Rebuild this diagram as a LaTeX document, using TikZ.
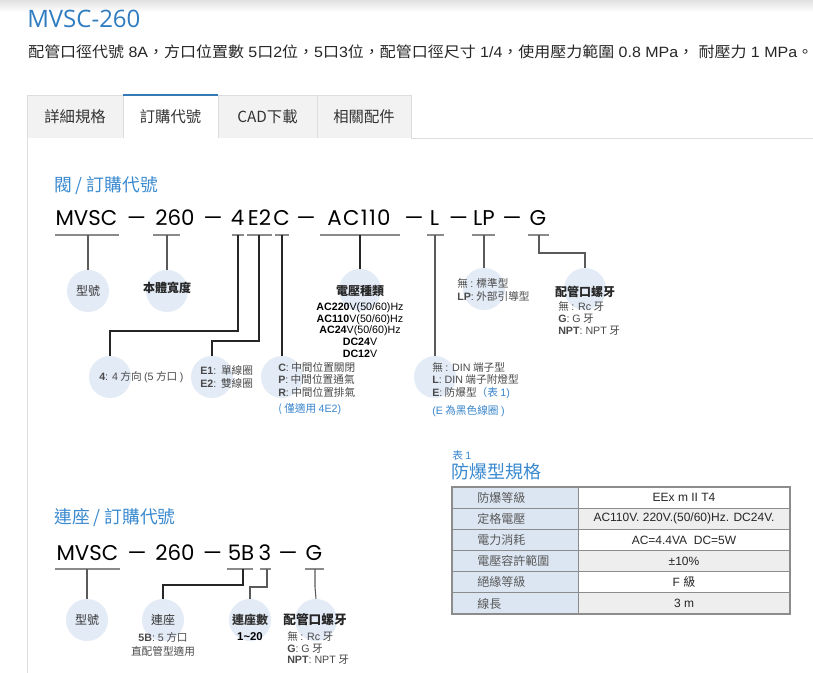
\documentclass[tikz,border=0pt]{standalone}
\usepackage{fontspec}
\setmainfont{Noto Sans CJK TC}
\newfontfamily\codefont{Poppins}
\newfontfamily\codefontw[Numbers=Monospaced,LetterSpace=6]{Poppins}
\newfontfamily\arialf{Liberation Sans}
\newfontfamily\titlef{Open Sans}
\newcommand\kb[1]{{\arialf\bfseries #1}}
\newcommand\ka[1]{{\arialf #1}}
\definecolor{titleblue}{HTML}{2F7CC0}
\definecolor{headblue}{HTML}{3A8AD0}
\definecolor{noteblue}{HTML}{3A86CC}
\definecolor{bubble}{HTML}{E3EBF6}
\definecolor{labgray}{HTML}{4A4A4A}
\definecolor{ulgray}{HTML}{8A8A8A}
\definecolor{conngray}{HTML}{5A5A5A}
\definecolor{tabgray}{HTML}{F2F2F2}
\definecolor{tabline}{HTML}{DDDDDD}
\definecolor{tabblue}{HTML}{337AB7}
\definecolor{cellblue}{HTML}{DCE6F2}
\definecolor{cellgray}{HTML}{EEEEEE}
\definecolor{gridgray}{HTML}{8C8C8C}
\begin{document}
\begin{tikzpicture}[x=0.75pt,y=-0.75pt,
  bub/.style={circle, fill=bubble, minimum size=31.5pt, inner sep=0pt},
  lab/.style={inner sep=0pt, font=\fontsize{8}{9.4}\selectfont, text=labgray, align=left},
  blab/.style={inner sep=0pt, font=\fontsize{9}{10}\selectfont\bfseries, text=black!85},
  rlab/.style={inner sep=0pt, font=\fontsize{9}{10}\selectfont, text=black!80},
  codetxt/.style={inner sep=0pt, anchor=base, font=\codefont\fontsize{16}{16}\selectfont, text=black},
  uline/.style={draw=ulgray, line width=1pt},
  conn/.style={draw=conngray, line width=0.8pt},
  dconn/.style={draw=black!85, line width=0.8pt},
  head/.style={inner sep=0pt, anchor=west, font=\fontsize{13.3}{15}\selectfont, text=headblue},
  note/.style={inner sep=0pt, anchor=west, font=\fontsize{8}{9.4}\selectfont, text=noteblue},
  tabtxt/.style={inner sep=0pt, font=\fontsize{11.5}{12}\selectfont, text=black!80},
  lcell/.style={inner sep=0pt, anchor=west, font=\fontsize{9}{10}\selectfont, text=black!65},
  rcell/.style={inner sep=0pt, font=\arialf\fontsize{9}{10}\selectfont, text=black!85}]
\useasboundingbox (0,0) rectangle (813,673);
\fill[white] (0,0) rectangle (813,673);
\shade[top color=black!12, bottom color=white] (0,0) rectangle (813,12);

% title and description
\node[inner sep=0pt, anchor=west, font=\titlef\fontsize{18}{20}\selectfont, text=titleblue] (title) at (27,19) {MVSC-260};
\node[inner sep=0pt, anchor=west, xscale=1.07, font=\fontsize{11.2}{12}\selectfont, text=black!85] (desc) at (28,52) {配管口徑代號\ka{ 8A}，方口位置數\ka{ 5}口\ka{2}位，\ka{5}口\ka{3}位，配管口徑尺寸\ka{ 1/4}，使用壓力範圍\ka{ 0.8 MPa}，\ka{ }耐壓力\ka{ 1 MPa}。};

% tabs
\filldraw[fill=tabgray, draw=tabline] (27,138) -- (27,95) -- (123,95) -- (123,138);
\filldraw[fill=white, draw=tabline] (123,138) -- (123,95) -- (218,95) -- (218,138);
\draw[tabblue, line width=1.5pt] (123,95) -- (218,95);
\filldraw[fill=tabgray, draw=tabline] (218,138) -- (218,95) -- (317,95) -- (317,138);
\filldraw[fill=tabgray, draw=tabline] (317,138) -- (317,95) -- (411,95) -- (411,138);
\draw[tabline] (411,138) -- (813,138);
\draw[tabline] (27,138) -- (27,673);
\node[tabtxt] (t1) at (75,117) {詳細規格};
\node[tabtxt] (t2) at (170.5,117) {訂購代號};
\node[tabtxt] (t3) at (267.5,117) {CAD下載};
\node[tabtxt] (t4) at (364,117) {相關配件};

% ===== section 1 =====
\node[head] (h1) at (54,186) {閥 / 訂購代號};
\node[codetxt] (m1) at (86.5,226) {MVSC};
\node[codetxt] (s11) at (136.5,226) {—};
\node[codetxt] (n1) at (175,226) {260};
\node[codetxt] (s12) at (213,226) {—};
\node[codetxt] (k4) at (237.5,226) {4};
\node[codetxt] (kE) at (259.5,226) {E2};
\node[codetxt] (kC) at (281.5,226) {C};
\node[codetxt] (s13) at (306,226) {—};
\node[codetxt, font=\codefontw\fontsize{16}{16}\selectfont] (kAC) at (359,226) {AC110};
\node[codetxt] (s14) at (414,226) {—};
\node[codetxt] (kL) at (434.5,226) {L};
\node[codetxt] (s15) at (458.5,226) {—};
\node[codetxt] (kLP) at (484,226) {LP};
\node[codetxt] (s16) at (512,226) {—};
\node[codetxt] (kG) at (538,226) {G};

\draw[uline] (55,235) -- (119,235);
\draw[uline] (153,235) -- (180,235);
\draw[uline] (232,235) -- (244,235);
\draw[uline] (247,235) -- (272,235);
\draw[uline] (275,235) -- (289,235);
\draw[uline] (320,235) -- (400,235);
\draw[uline] (427,235) -- (444,235);
\draw[uline] (472,235) -- (495,235);
\draw[uline] (528,235) -- (549,235);

\coordinate (u1) at (88,235);
\coordinate (u2) at (167,235);
\coordinate (u3) at (238,235);
\coordinate (u4) at (259,235);
\coordinate (u5) at (282,235);
\coordinate (u6) at (360,235);
\coordinate (u7) at (435,235);
\coordinate (u8) at (484,235);
\coordinate (u9) at (539,235);

\node[bub] (c1) at (88,291) {};
\node[bub] (c2) at (167,291) {};
\node[bub] (c3) at (110,377) {};
\node[bub] (c4) at (212,377) {};
\node[bub] (c5) at (282,377) {};
\node[bub] (c6) at (360,290) {};
\node[bub] (c7) at (435,377) {};
\node[bub] (c8) at (484,289) {};
\node[bub] (c9) at (585,289) {};

\draw[conn] (u1) -- (c1.north);
\draw[conn] (u2) -- (c2.north);
\draw[dconn] (u3) -- (238,331) -- (110,331) -- (c3.north);
\draw[dconn] (u4) -- (259,341) -- (212,341) -- (c4.north);
\draw[dconn] (u5) -- (c5.north);
\draw[dconn] (u6) -- (c6.north);
\draw[conn] (u7) -- (c7.north);
\draw[conn] (u8) -- (c8.north);
\draw[conn] (u9) -- (539,253) -- (585,253) -- (c9.north);

\node[rlab] (l1) at (88,291) {型號};
\node[blab] (l2) at (167,288) {本體寬度};
\node[lab, anchor=west] (l3) at (99,377) {\kb{4}\ka{: 4} 方向 \ka{(5} 方口 \ka{)}};
\node[lab, anchor=west, font=\fontsize{8}{9.8}\selectfont] (l4) at (200,376.5) {\kb{E1}\ka{:}\ \ 單線圈\\\kb{E2}\ka{:}\ \ 雙線圈};
\node[lab, anchor=west] (l5) at (278,379.5) {\kb{C}\ka{:} 中間位置關閉\\\kb{P}\ka{:} 中間位置通氣\\\kb{R}\ka{:} 中間位置排氣};
\node[note] (n5) at (278,409) {( 僅適用 \ka{4E2)}};
\node[blab] (l6) at (360,291) {電壓種類};
\node[inner sep=0pt, anchor=north, align=center, font=\arialf\fontsize{8}{8.8}\selectfont, text=black] (v6) at (360,302.5) {\kb{AC220}V(50/60)Hz\\\kb{AC110}V(50/60)Hz\\\kb{AC24}V(50/60)Hz\\\kb{DC24}V\\\kb{DC12}V};
\node[lab, anchor=west] (l7) at (432,380.5) {無 \ka{: DIN} 端子型\\\kb{L}\ka{: DIN} 端子附燈型\\\kb{E}\ka{:} 防爆型{\color{noteblue}（表 \ka{1)}}};
\node[note] (n7) at (432,411) {\ka{(E} 為黑色線圈 \ka{)}};
\node[lab, anchor=west, font=\fontsize{8}{9.8}\selectfont] (l8) at (457,289.5) {無 \ka{:} 標準型\\\kb{LP}\ka{:} 外部引導型};
\node[blab] (l9) at (585,292) {配管口螺牙};
\node[lab, anchor=north west, font=\fontsize{8}{9}\selectfont] (v9) at (558,301) {無 \ka{: Rc} 牙\\\kb{G}\ka{: G} 牙\\\kb{NPT}\ka{: NPT} 牙};

% ===== table =====
\node[inner sep=0pt, anchor=west, font=\fontsize{8}{9}\selectfont, text=noteblue] (tb1) at (452,455) {表 \ka{1}};
\node[inner sep=0pt, anchor=west, font=\fontsize{13.5}{15}\selectfont, text=headblue] (tb2) at (451,472) {防爆型規格};
\foreach \i/\a/\b in {0/防爆等級/{EEx m II T4},1/定格電壓/{AC110V. 220V.(50/60)Hz. DC24V.},2/電力消耗/{AC=4.4VA\ \ DC=5W},3/電壓容許範圍/{±10\%},4/絕緣等級/{F {\normalfont 級}},5/線長/{3 m}}{
  \pgfmathsetmacro\yt{487+21.17*\i}
  \pgfmathsetmacro\yb{487+21.17*(\i+1)}
  \pgfmathsetmacro\ym{487+21.17*(\i+0.5)}
  \pgfmathtruncatemacro\odd{mod(\i,2)}
  \fill[cellblue] (452,\yt) rectangle (578,\yb);
  \ifnum\odd=1 \fill[cellgray] (578,\yt) rectangle (790,\yb); \else \fill[white] (578,\yt) rectangle (790,\yb); \fi
  \node[lcell] (tl\i) at (477,\ym) {\a};
  \node[rcell] (tr\i) at (684,\ym) {\b};
}
\foreach \i in {1,...,5}{\draw[gridgray, line width=0.7pt] (452,487+21.17*\i) -- (790,487+21.17*\i);}
\draw[gridgray, line width=0.7pt] (578,487) -- (578,614);
\draw[gridgray, line width=1.2pt] (452,487) rectangle (790,614);

% ===== section 2 =====
\node[head] (h2) at (54,518) {連座 / 訂購代號};
\node[codetxt] (m2) at (87.5,560) {MVSC};
\node[codetxt] (s21) at (137,560) {—};
\node[codetxt] (n2) at (175,560) {260};
\node[codetxt] (s22) at (212.5,560) {—};
\node[codetxt] (k5B) at (241,560) {5B};
\node[codetxt] (k3) at (265,560) {3};
\node[codetxt] (s23) at (288,560) {—};
\node[codetxt] (kG2) at (314,560) {G};

\draw[uline] (55,569) -- (120,569);
\draw[uline] (227,569) -- (253,569);
\draw[uline] (260,569) -- (271,569);
\draw[uline] (305,569) -- (324,569);

\coordinate (w1) at (87,569);
\coordinate (w2) at (243,569);
\coordinate (w3) at (267,569);
\coordinate (w4) at (315,569);

\node[bub] (e1) at (87,620) {};
\node[bub] (e2) at (163,620) {};
\node[bub] (e3) at (250,620) {};
\node[bub] (e4) at (316,620) {};

\draw[conn] (w1) -- (e1.north);
\draw[dconn] (w2) -- (243,585) -- (163,585) -- (e2.north);
\draw[conn] (w3) -- (267,587) -- (250,587) -- (e3.north);
\draw[conn] (w4) -- (315,587) -- (e4.north);

\node[rlab] (p1) at (87,620) {型號};
\node[rlab] (p2) at (163,620) {連座};
\node[lab, align=center, font=\fontsize{8}{10.5}\selectfont] (q2) at (163,644) {\kb{5B}\ka{: 5} 方口\\直配管型適用};
\node[rlab, font=\fontsize{9}{10}\selectfont\bfseries] (p3) at (250,620) {連座數};
\node[inner sep=0pt, font=\arialf\bfseries\fontsize{8.5}{10}\selectfont] (q3) at (250,637) {1\textasciitilde20};
\node[blab, font=\fontsize{9.5}{10}\selectfont\bfseries] (p4) at (315,620) {配管口螺牙};
\node[lab, anchor=north west, font=\fontsize{8}{8.8}\selectfont] (q4) at (287,631) {無 \ka{: Rc} 牙\\\kb{G}\ka{: G} 牙\\\kb{NPT}\ka{: NPT} 牙};
\end{tikzpicture}
\end{document}
